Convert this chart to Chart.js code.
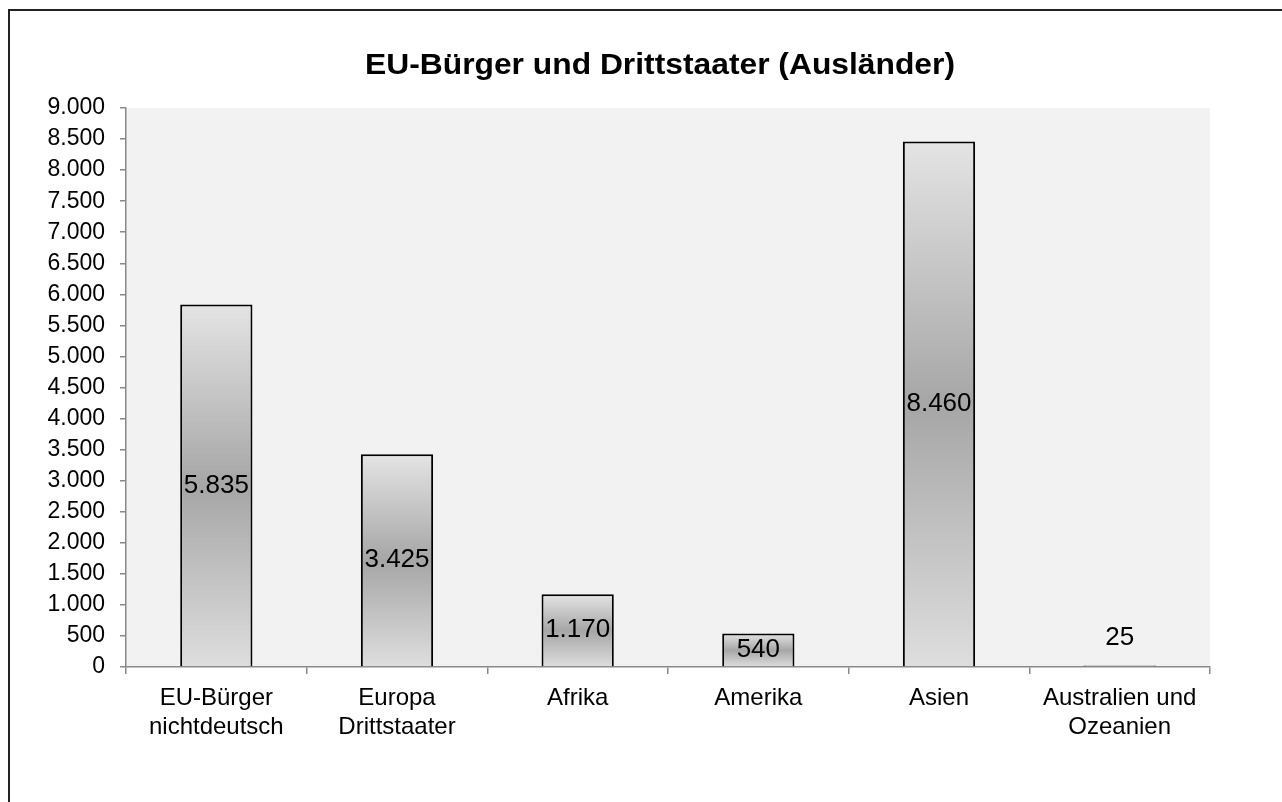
<!DOCTYPE html>
<html lang="de">
<head>
  <meta charset="UTF-8">
  <title>EU-Bürger und Drittstaater (Ausländer)</title>
  <script src="https://cdn.jsdelivr.net/npm/chart.js"></script>
  <style>
    html, body {
      margin: 0;
      padding: 0;
      background: #fff;
      overflow: hidden;
    }
    .frame {
      position: absolute;
      left: 8px;
      top: 9px;
      width: 1400px;
      height: 900px;
      border: 2px solid #222;
      box-sizing: border-box;
    }
    .wrap {
      position: absolute;
      left: 0;
      top: 0;
      width: 1282px;
      height: 802px;
    }
  </style>
</head>
<body>
  <div class="frame"></div>
  <div class="wrap"><canvas id="chart"></canvas></div>

  <script>
    // Daten
    const title = 'EU-Bürger und Drittstaater (Ausländer)';
    const categories = [
      ['EU-Bürger', 'nichtdeutsch'],
      ['Europa', 'Drittstaater'],
      'Afrika',
      'Amerika',
      'Asien',
      ['Australien und', 'Ozeanien']
    ];
    const counts = [5835, 3425, 1170, 540, 8460, 25];
    const yMin = 0;
    const yMax = 9000;
    const yStep = 500;

    const FONT = '"Liberation Sans", Arial, sans-serif';
    const AXIS_GREY = '#898989';

    // Zahlen mit Punkt als Tausendertrennzeichen
    const fmt = v => String(v).replace(/\B(?=(\d{3})+(?!\d))/g, '.');

    // grauer Hintergrund der Zeichenfläche
    const plotBg = {
      id: 'plotBg',
      beforeDraw(chart) {
        const a = chart.chartArea;
        const ctx = chart.ctx;
        ctx.save();
        ctx.fillStyle = '#f2f2f2';
        ctx.fillRect(a.left, a.top, a.right - a.left, a.bottom - a.top);
        ctx.restore();
      }
    };

    // Titel
    const titlePlugin = {
      id: 'customTitle',
      afterDraw(chart) {
        const ctx = chart.ctx;
        ctx.save();
        ctx.font = 'bold 29px ' + FONT;
        const w = ctx.measureText(title).width;
        ctx.translate(660, 74);
        ctx.scale(590 / w, 1);
        ctx.textAlign = 'center';
        ctx.textBaseline = 'alphabetic';
        ctx.fillStyle = '#000';
        ctx.fillText(title, 0, 0);
        ctx.restore();
      }
    };

    // Datenbeschriftungen in der Mitte der Balken
    const valueLabels = {
      id: 'valueLabels',
      afterDatasetsDraw(chart) {
        const ctx = chart.ctx;
        const meta = chart.getDatasetMeta(0);
        ctx.save();
        ctx.font = '26px ' + FONT;
        ctx.fillStyle = '#000';
        ctx.textAlign = 'center';
        ctx.textBaseline = 'middle';
        meta.data.forEach((bar, i) => {
          const h = bar.base - bar.y;
          const y = h < 30 ? bar.y - 28 : (bar.y + bar.base) / 2;
          ctx.fillText(fmt(counts[i]), bar.x, y);
        });
        ctx.restore();
      }
    };

    function barGradient(c) {
      const chart = c.chart;
      if (!chart.chartArea || !chart.scales.y) return '#c0c0c0';
      const y = chart.scales.y;
      const top = y.getPixelForValue(c.raw);
      const bottom = y.getPixelForValue(0);
      if (bottom - top < 2) return '#a6a6a6';
      const g = chart.ctx.createLinearGradient(0, top, 0, bottom);
      g.addColorStop(0, '#e4e4e4');
      g.addColorStop(0.5, '#a6a6a6');
      g.addColorStop(1, '#dedede');
      return g;
    }

    const ctx = document.getElementById('chart').getContext('2d');
    new Chart(ctx, {
      type: 'bar',
      data: {
        labels: categories,
        datasets: [{
          data: counts,
          backgroundColor: barGradient,
          borderColor: '#000',
          borderWidth: 2,
          barPercentage: 0.4,
          categoryPercentage: 1
        }]
      },
      options: {
        responsive: true,
        maintainAspectRatio: false,
        animation: false,
        layout: {
          padding: { top: 108, right: 72, bottom: 0, left: 0 }
        },
        plugins: {
          legend: { display: false },
          title: { display: false },
          tooltip: { enabled: false }
        },
        scales: {
          x: {
            offset: true,
            grid: {
              offset: true,
              drawOnChartArea: false,
              drawTicks: true,
              tickLength: 7,
              color: AXIS_GREY,
              lineWidth: 1.5
            },
            border: { color: AXIS_GREY, width: 1.5 },
            ticks: {
              color: '#000',
              font: { family: FONT, size: 24 },
              padding: 10,
              maxRotation: 0,
              autoSkip: false
            },
            afterFit(scale) { scale.height = 135; }
          },
          y: {
            min: yMin,
            max: yMax,
            grid: {
              drawOnChartArea: false,
              drawTicks: true,
              tickLength: 6,
              color: AXIS_GREY,
              lineWidth: 1.5
            },
            border: { color: AXIS_GREY, width: 1.5 },
            ticks: {
              stepSize: yStep,
              color: '#000',
              font: { family: FONT, size: 23 },
              padding: 15,
              callback: v => fmt(v)
            },
            afterFit(scale) { scale.width = 126; }
          }
        }
      },
      plugins: [plotBg, titlePlugin, valueLabels]
    });
  </script>
</body>
</html>
